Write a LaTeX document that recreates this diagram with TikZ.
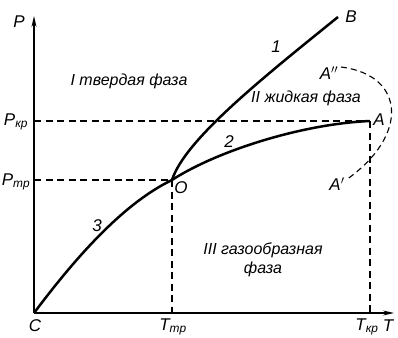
\documentclass[tikz,border=0pt]{standalone}
\usepackage{fontspec}
\setmainfont{Liberation Sans}
\usetikzlibrary{arrows.meta}
\begin{document}
\begin{tikzpicture}[x=1pt,y=-1pt,
  lbl/.style={font=\fontsize{17}{18}\selectfont\itshape, inner sep=0pt},
  txt/.style={font=\fontsize{16}{19}\selectfont\itshape, inner sep=0pt},
  axis/.style={line width=1.5pt, -{Stealth[length=11pt,width=5pt]}},
  curve/.style={line width=2.5pt},
  guide/.style={line width=1.3pt, dash pattern=on 7pt off 4.5pt},
  loop/.style={line width=1.1pt, dash pattern=on 6pt off 4pt}]
\useasboundingbox (0,0) rectangle (398,337);
% points
\coordinate (C) at (34,313);
\coordinate (O) at (172,180);
\coordinate (A) at (370,121);
\coordinate (B) at (338,17);
\coordinate (ytop) at (34,16);
\coordinate (xend) at (394,313);
\coordinate (Pkr) at (34,121);
\coordinate (Ptr) at (34,180);
\coordinate (Ttr) at (172,313);
\coordinate (Tkr) at (370,313);
\coordinate (A2s) at (341,67);
\coordinate (A1e) at (346,180);
% axes
\draw[axis] (C) -- (ytop);
\draw[axis] (C) -- (xend);
% dashed guides
\draw[guide] (Pkr) -- (A);
\draw[guide] (Ptr) -- (O);
\draw[guide] (O) -- (Ttr);
\draw[guide] (A) -- (Tkr);
% curves
\draw[curve] (C) .. controls (70,265) and (120,205) .. (O);
\draw[curve] (O) .. controls (215,152) and (300,124) .. (A);
\draw[curve] (O) .. controls (185,140) and (260,80) .. (B);
\draw[loop] (A2s) .. controls (405,75) and (410,135) .. (A1e);
% labels
\node[lbl] (lP) at (19,22) {P};
\node[lbl] (lT) at (388,326) {T};
\node[lbl] (lPkr) at (16,122) {P\textsubscript{кр}};
\node[lbl] (lPtr) at (16,182) {P\textsubscript{тр}};
\node[lbl] (lTtr) at (173,327) {T\textsubscript{тр}};
\node[lbl] (lTkr) at (367,327) {T\textsubscript{кр}};
\node[lbl] (lC) at (35,326) {C};
\node[lbl] (lO) at (181,188) {O};
\node[lbl] (lA) at (379,120) {A};
\node[lbl] (lA1) at (337,184) {A$'$};
\node[lbl] (lA2) at (329,73) {A$''$};
\node[lbl] (lB) at (351,17) {B};
\node[lbl] (l1) at (276,47) {1};
\node[lbl] (l2) at (229,142) {2};
\node[lbl] (l3) at (97,226) {3};
\node[txt] (tI) at (129,81) {I твердая фаза};
\node[txt] (tII) at (306,98) {II жидкая фаза};
\node[txt, align=center] (tIII) at (263,260) {III газообразная\\фаза};
\end{tikzpicture}
\end{document}
